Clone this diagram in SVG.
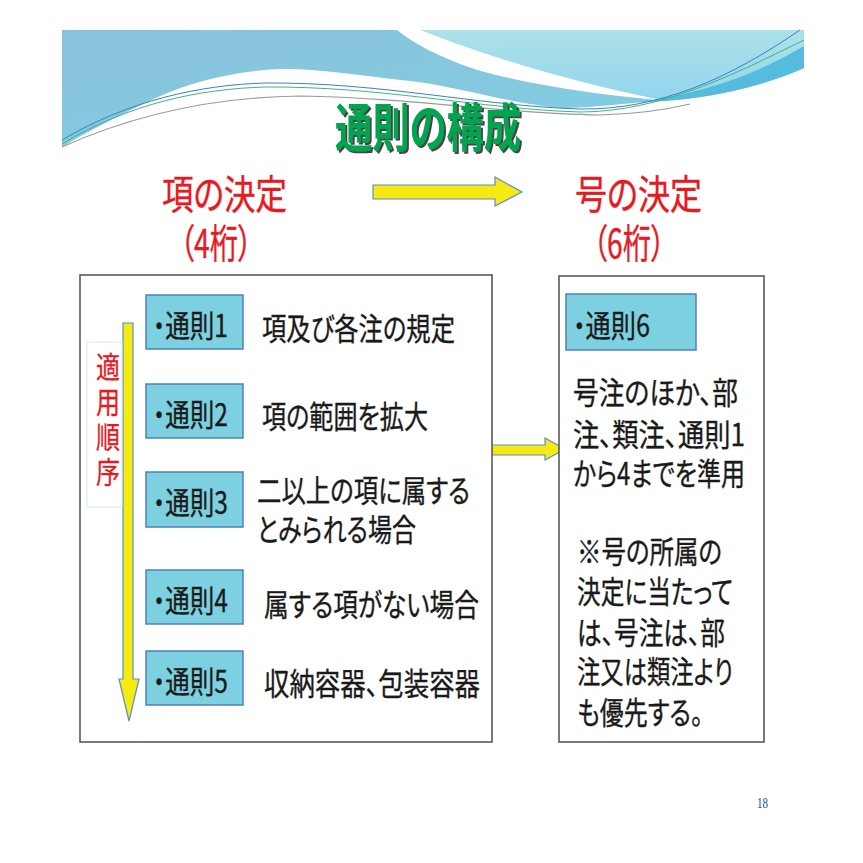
<svg xmlns="http://www.w3.org/2000/svg" width="863" height="863" viewBox="0 0 863 863">
<style>
.jp{font-family:"Noto Sans CJK JP","Noto Sans",sans-serif;font-feature-settings:"palt";}
.red{fill:#e8191f;font-size:40px;stroke:#e8191f;stroke-width:0.4;}
.blk{fill:#1a1a1a;font-size:31px;stroke:#1a1a1a;stroke-width:0.35;}
.rule{fill:#7dd0e0;stroke:#4f81bd;stroke-width:1.5;}
.frame{fill:#ffffff;stroke:#595959;stroke-width:1.6;}
.arrow{fill:#f5eb12;stroke:#5b8fc9;stroke-width:1.2;}
</style>
<defs>
<linearGradient id="gL" x1="0" y1="0" x2="1" y2="1">
<stop offset="0" stop-color="#8bc2dc"/>
<stop offset="1" stop-color="#7ed0e2"/>
</linearGradient>
<linearGradient id="gR" x1="0" y1="0" x2="0" y2="1">
<stop offset="0" stop-color="#ade1e8"/>
<stop offset="1" stop-color="#92d5ee"/>
</linearGradient>
<filter id="shadow" x="-10%" y="-10%" width="130%" height="140%">
<feDropShadow dx="2" dy="2" stdDeviation="0.6" flood-color="#333333" flood-opacity="0.9"/>
</filter>
</defs>
<rect width="863" height="863" fill="#ffffff"/>

<g id="banner">
<path d="M62,30 H804 V68 C760,86 710,99 660,101 C625,103 595,108 560,108 C500,102 450,84 401,80 C350,74 300,66 265,70 C230,73 190,82 158,97 C120,115 90,130 62,147 Z" fill="url(#gL)"/>
<path d="M421,30 H804 V68 C760,86 710,99 660,100 C600,88 500,62 421,30 Z" fill="url(#gR)"/>
<path d="M804,46 C760,72 710,92 640,102 C700,101 760,88 804,68 Z" fill="#4db8dc" opacity="0.9"/>
<path d="M397,30 H421 C500,62 600,88 662,100 C600,96 500,80 460,64 C430,52 412,42 397,30 Z" fill="#ffffff"/>
<path d="M62,140 C130,100 200,85 265,83 C380,82 480,106 580,109 C660,110 730,78 800,30" fill="none" stroke="#3a7fc8" stroke-width="1"/>
<path d="M62,144 C130,103 200,89 265,87 C380,86 480,109 580,112 C660,112 735,74 804,40" fill="none" stroke="#3cb878" stroke-width="1"/>
<path d="M62,147 C140,112 220,97 300,96 C420,98 500,114 600,115 C640,114 665,110 690,104" fill="none" stroke="#9a9a9a" stroke-width="1.2"/>
</g>

<g id="title">
<text class="jp" x="335" y="147" font-size="52" font-weight="bold" fill="#00a550" filter="url(#shadow)" textLength="186" lengthAdjust="spacingAndGlyphs">通則の構成</text>
</g>

<g id="head-left">
<text class="jp red" x="162" y="209" textLength="125" lengthAdjust="spacingAndGlyphs">項の決定</text>
<text class="jp red" x="180" y="258" font-size="38" textLength="72" lengthAdjust="spacingAndGlyphs">（4桁）</text>
</g>
<g id="head-right">
<text class="jp red" x="575" y="209" textLength="127" lengthAdjust="spacingAndGlyphs">号の決定</text>
<text class="jp red" x="593" y="258" font-size="38" textLength="72" lengthAdjust="spacingAndGlyphs">（6桁）</text>
</g>

<g id="connectors">
<polygon class="arrow" points="373,185 495,185 495,177 522,192 495,206 495,199 373,199"/>
<polygon class="arrow" points="488,445 545,445 545,438 565,449 545,460 545,455 488,455"/>
</g>

<g id="left-box">
<rect class="frame" x="80" y="275" width="412" height="467"/>
</g>

<g id="order">
<polygon class="arrow" points="123,323 133,323 133,679 139,679 129,721 119,679 123,679"/>
<rect x="87" y="342" width="35" height="165" fill="#ffffff" stroke="#cfe8ef" stroke-width="1"/>
<text class="jp" fill="#e8191f" stroke="#e8191f" stroke-width="0.3" font-size="30" writing-mode="tb" letter-spacing="5" transform="scale(0.8,1)" x="135" y="352">適用順序</text>
</g>

<g id="rule1">
<rect class="rule" x="146" y="295" width="97" height="54"/>
<text class="jp blk" x="153" y="337" textLength="75" lengthAdjust="spacingAndGlyphs">・通則1</text>
<text class="jp blk" x="262" y="340" textLength="193" lengthAdjust="spacingAndGlyphs">項及び各注の規定</text>
</g>
<g id="rule2">
<rect class="rule" x="146" y="384" width="97" height="54"/>
<text class="jp blk" x="153" y="426" textLength="75" lengthAdjust="spacingAndGlyphs">・通則2</text>
<text class="jp blk" x="262" y="428" textLength="166" lengthAdjust="spacingAndGlyphs">項の範囲を拡大</text>
</g>
<g id="rule3">
<rect class="rule" x="146" y="472" width="97" height="55"/>
<text class="jp blk" x="153" y="514" textLength="75" lengthAdjust="spacingAndGlyphs">・通則3</text>
<text class="jp blk" x="257" y="502" textLength="213" lengthAdjust="spacingAndGlyphs">二以上の項に属する</text>
<text class="jp blk" x="257" y="541" textLength="159" lengthAdjust="spacingAndGlyphs">とみられる場合</text>
</g>
<g id="rule4">
<rect class="rule" x="146" y="570" width="97" height="54"/>
<text class="jp blk" x="153" y="612" textLength="75" lengthAdjust="spacingAndGlyphs">・通則4</text>
<text class="jp blk" x="264" y="616" textLength="215" lengthAdjust="spacingAndGlyphs">属する項がない場合</text>
</g>
<g id="rule5">
<rect class="rule" x="146" y="651" width="97" height="54"/>
<text class="jp blk" x="153" y="693" textLength="75" lengthAdjust="spacingAndGlyphs">・通則5</text>
<text class="jp blk" x="264" y="695" textLength="216" lengthAdjust="spacingAndGlyphs">収納容器、包装容器</text>
</g>

<g id="right-box">
<rect class="frame" x="559" y="276" width="205" height="466"/>
</g>
<g id="rule6">
<rect class="rule" x="566" y="294" width="130" height="56"/>
<text class="jp blk" x="573" y="337" textLength="77" lengthAdjust="spacingAndGlyphs">・通則6</text>
<text class="jp blk" font-size="30" x="573" y="404" textLength="165" lengthAdjust="spacingAndGlyphs">号注のほか、部</text>
<text class="jp blk" font-size="30" x="573" y="446" textLength="172" lengthAdjust="spacingAndGlyphs">注、類注、通則1</text>
<text class="jp blk" font-size="30" x="573" y="485" textLength="172" lengthAdjust="spacingAndGlyphs">から4までを準用</text>
<text class="jp blk" font-size="30" x="577" y="563" textLength="145" lengthAdjust="spacingAndGlyphs">※号の所属の</text>
<text class="jp blk" font-size="30" x="577" y="603" textLength="156" lengthAdjust="spacingAndGlyphs">決定に当たって</text>
<text class="jp blk" font-size="30" x="577" y="644" textLength="148" lengthAdjust="spacingAndGlyphs">は、号注は、部</text>
<text class="jp blk" font-size="30" x="577" y="683" textLength="156" lengthAdjust="spacingAndGlyphs">注又は類注より</text>
<text class="jp blk" font-size="30" x="577" y="724" textLength="126" lengthAdjust="spacingAndGlyphs">も優先する。</text>
</g>

<g id="page-number">
<text x="757" y="808" font-family="Liberation Serif, serif" font-size="15" fill="#1f4e79" textLength="11" lengthAdjust="spacingAndGlyphs">18</text>
</g>
</svg>
